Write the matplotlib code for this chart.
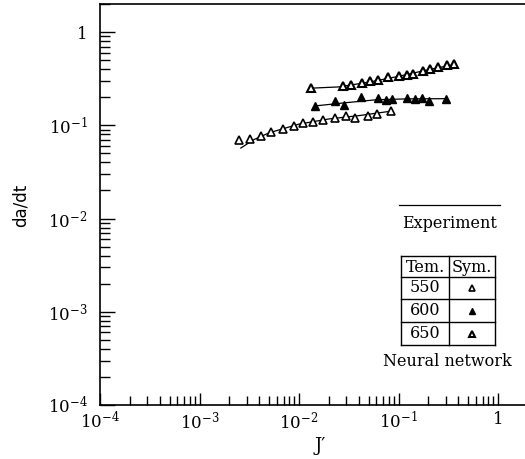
import matplotlib
matplotlib.use("Agg")
import matplotlib.pyplot as plt
import numpy as np
from matplotlib.lines import Line2D
from matplotlib.ticker import FixedLocator, FixedFormatter, NullFormatter

plt.rcParams["font.family"] = "DejaVu Serif"
plt.rcParams["mathtext.fontset"] = "dejavuserif"

# neural network predictions (triangles)
nn550_x = [0.00251, 0.00322, 0.00412, 0.00524, 0.00697, 0.00897, 0.0109, 0.0139,
           0.0175, 0.0230, 0.0296, 0.0366, 0.0498, 0.0604, 0.0834]
nn550_y = [0.069, 0.072, 0.077, 0.085, 0.091, 0.0975, 0.106, 0.109,
           0.115, 0.120, 0.125, 0.120, 0.127, 0.132, 0.144]

nn600_x = [0.0145, 0.0230, 0.0283, 0.0420, 0.0622, 0.0748, 0.0861, 0.122,
           0.147, 0.172, 0.203, 0.300]
nn600_y = [0.160, 0.181, 0.164, 0.200, 0.195, 0.186, 0.191, 0.195,
           0.191, 0.195, 0.181, 0.191]

nn650_x = [0.0132, 0.0277, 0.0333, 0.0430, 0.0518, 0.0622, 0.0783, 0.101,
           0.122, 0.140, 0.176, 0.207, 0.249, 0.307, 0.361]
nn650_y = [0.250, 0.262, 0.269, 0.283, 0.297, 0.305, 0.328, 0.337,
           0.345, 0.353, 0.381, 0.400, 0.421, 0.442, 0.453]

# experiment curves (thin lines)
ex550_x = [0.0026, 0.0035, 0.005, 0.01, 0.02, 0.04, 0.085]
ex550_y = [0.057, 0.070, 0.083, 0.103, 0.117, 0.127, 0.142]
ex600_x = [0.015, 0.03, 0.06, 0.12, 0.3]
ex600_y = [0.162, 0.175, 0.188, 0.192, 0.193]
ex650_x = [0.013, 0.025, 0.05, 0.1, 0.2, 0.37]
ex650_y = [0.25, 0.258, 0.29, 0.335, 0.395, 0.45]

temps = ["550", "600", "650"]
major = [1e-4, 1e-3, 1e-2, 1e-1, 1]
major_labels = ["$10^{-4}$", "$10^{-3}$", "$10^{-2}$", "$10^{-1}$", "1"]

W, H = 525, 459
fig = plt.figure(figsize=(W / 100, H / 100), dpi=100)
ax = fig.add_axes([100 / W, 1 - 405 / H, 425 / W, 401 / H])

ax.set_xscale("log")
ax.set_yscale("log")
ax.set_xlim(1e-4, 10 ** (425 / 99.5 - 4))
ax.set_ylim(1e-4, 2.0)

styles = {
    "550": dict(mfc="white", mec="black", mew=1.2),
    "600": dict(mfc="black", mec="black", mew=1.0),
    "650": dict(mfc="white", mec="black", mew=1.5),
}

for ex, ey in [(ex550_x, ex550_y), (ex600_x, ex600_y), (ex650_x, ex650_y)]:
    ax.plot(ex, ey, color="black", lw=0.9)

for t, nx, ny in [("550", nn550_x, nn550_y), ("600", nn600_x, nn600_y), ("650", nn650_x, nn650_y)]:
    ax.plot(nx, ny, ls="none", marker="^", ms=5.5, **styles[t])

ax.spines["right"].set_visible(False)
for s in ax.spines.values():
    s.set_linewidth(1.2)

minors = [m * 10.0 ** e for e in range(-4, 1) for m in range(2, 10)]
for axis in (ax.xaxis, ax.yaxis):
    axis.set_major_locator(FixedLocator(major))
    axis.set_major_formatter(FixedFormatter(major_labels))
    axis.set_minor_locator(FixedLocator(minors))
    axis.set_minor_formatter(NullFormatter())

ax.tick_params(axis="x", which="major", direction="in", length=8.5, width=1, pad=4, labelsize=12)
ax.tick_params(axis="x", which="minor", direction="in", length=6.5, width=1)
ax.tick_params(axis="y", which="major", direction="in", length=10.5, width=1, pad=9, labelsize=12)
ax.tick_params(axis="y", which="minor", direction="in", length=7, width=1)
ax.tick_params(top=False, right=False, which="both")

fig.text(320 / W, 1 - 446 / H, "J′", ha="center", va="center", fontsize=13)
fig.text(21 / W, 1 - 205 / H, "da/dt", rotation=90, ha="center", va="center",
         fontsize=12, family="DejaVu Sans")

# legend drawn by hand: experiment line + table of symbols
def fx(p):
    return p / W

def fy(p):
    return 1 - p / H

fig.add_artist(Line2D([fx(399), fx(500)], [fy(205), fy(205)], color="black", lw=0.9))
fig.text(fx(450), fy(224), "Experiment", ha="center", va="center", fontsize=11.5)

col = [401, 449, 495]
rows = [256, 277, 299, 322, 345]
for r in rows:
    fig.add_artist(Line2D([fx(col[0]), fx(col[2])], [fy(r), fy(r)], color="black", lw=1))
for c in col:
    fig.add_artist(Line2D([fx(c), fx(c)], [fy(rows[0]), fy(rows[-1])], color="black", lw=1))

fig.text(fx(425), fy(267), "Tem.", ha="center", va="center", fontsize=11.5)
fig.text(fx(472), fy(267), "Sym.", ha="center", va="center", fontsize=11.5)
for i, t in enumerate(temps):
    yc = (rows[i + 1] + rows[i + 2]) / 2
    fig.text(fx(425), fy(yc), t, ha="center", va="center", fontsize=11.5)
    fig.add_artist(Line2D([fx(472)], [fy(yc)], ls="none", marker="^", ms=5, **styles[t]))

fig.text(fx(447), fy(362), "Neural network", ha="center", va="center", fontsize=11.5)

fig.savefig("out.png", dpi=100)
